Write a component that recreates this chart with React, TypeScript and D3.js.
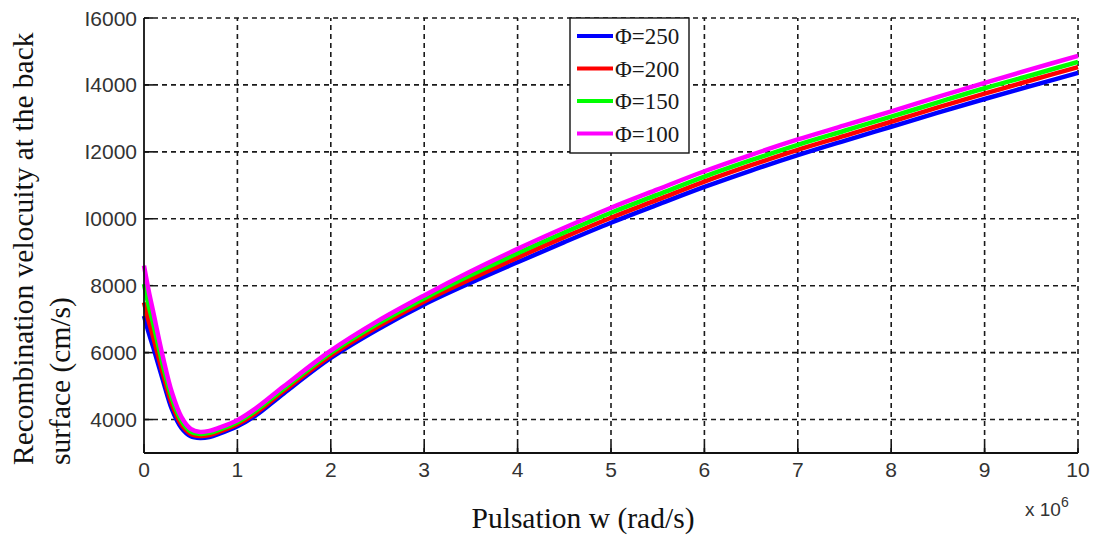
import React from "react";
import * as d3 from "d3";

const W = 1099;
const H = 536;

const xs = [0, 0.05, 0.1, 0.2, 0.3, 0.4, 0.5, 0.6, 0.7, 0.8, 1, 1.2, 1.5, 2, 2.5, 3, 3.5, 4, 4.5, 5, 5.5, 6, 6.5, 7, 7.5, 8, 8.5, 9, 9.5, 10];

const phi250 = [7100, 6600, 6150, 5200, 4300, 3750, 3500, 3450, 3480, 3570, 3800, 4130, 4790, 5840, 6690, 7440, 8090, 8700, 9300, 9880, 10420, 10950, 11440, 11900, 12330, 12750, 13170, 13580, 13970, 14360];
const phi200 = [7500, 6950, 6450, 5400, 4450, 3850, 3570, 3510, 3540, 3630, 3860, 4200, 4860, 5910, 6770, 7530, 8200, 8840, 9450, 10030, 10570, 11110, 11600, 12060, 12480, 12900, 13330, 13740, 14140, 14530];
const phi150 = [8050, 7400, 6850, 5650, 4620, 3960, 3640, 3570, 3600, 3690, 3920, 4270, 4930, 5990, 6860, 7620, 8320, 8970, 9590, 10180, 10720, 11260, 11750, 12210, 12630, 13050, 13480, 13900, 14290, 14690];
const phi100 = [8600, 7850, 7200, 5900, 4800, 4080, 3720, 3630, 3660, 3750, 3980, 4340, 5000, 6060, 6940, 7710, 8430, 9100, 9730, 10330, 10880, 11420, 11910, 12370, 12790, 13210, 13640, 14060, 14470, 14870];

const seriesNames = ["Φ=250", "Φ=200", "Φ=150", "Φ=100"];
const seriesColors = ["#0000ff", "#ff0000", "#00ff00", "#ff00ff"];
const seriesValues = [phi250, phi200, phi150, phi100];

const xTicks = [0, 1, 2, 3, 4, 5, 6, 7, 8, 9, 10];
const xTickLabels = ["0", "1", "2", "3", "4", "5", "6", "7", "8", "9", "10"];
const yTicks = [4000, 6000, 8000, 10000, 12000, 14000, 16000];
const yTickLabels = ["4000", "6000", "8000", "I0000", "I2000", "I4000", "I6000"];

const left = 144;
const right = 1078;
const top = 18;
const bottom = 453;

export default function App() {
  const x = d3.scaleLinear().domain([0, 10]).range([left, right]);
  const y = d3.scaleLinear().domain([3000, 16000]).range([bottom, top]);
  const line = d3
    .line<[number, number]>()
    .x((d) => x(d[0]))
    .y((d) => y(d[1]))
    .curve(d3.curveCatmullRom.alpha(0.5));

  const gridColor = "#1a1a1a";
  const tickFont = "'Liberation Sans', Arial, sans-serif";
  const serif = "'Liberation Serif', 'Times New Roman', serif";

  const legX = 570;
  const legY = 18;
  const legW = 119;
  const legH = 135;

  return (
    <svg
      width={W}
      height={H}
      style={{ position: "absolute", left: 0, top: 0, background: "#fff" }}
    >
      <rect x={0} y={0} width={W} height={H} fill="#fff" />
      {/* grid */}
      {xTicks.map((t) =>
        t === 0 ? null : (
          <line
            key={"gx" + t}
            x1={x(t)}
            x2={x(t)}
            y1={bottom}
            y2={top}
            stroke={gridColor}
            strokeWidth={1.6}
            strokeDasharray="5,4"
          />
        )
      )}
      {yTicks.map((t) => (
        <line
          key={"gy" + t}
          x1={left}
          x2={right}
          y1={y(t)}
          y2={y(t)}
          stroke={gridColor}
          strokeWidth={1.6}
          strokeDasharray="5,4"
        />
      ))}
      {/* inward ticks */}
      {xTicks.map((t) => (
        <line key={"tx" + t} x1={x(t)} x2={x(t)} y1={bottom} y2={bottom - 9} stroke="#111" strokeWidth={1.6} />
      ))}
      {yTicks.map((t) => (
        <line key={"ty" + t} x1={left} x2={left + 9} y1={y(t)} y2={y(t)} stroke="#111" strokeWidth={1.6} />
      ))}
      {/* curves */}
      {seriesValues.map((vals, i) => (
        <path
          key={"s" + i}
          d={line(xs.map((xv, j) => [xv, vals[j]]) as [number, number][]) || ""}
          fill="none"
          stroke={seriesColors[i]}
          strokeWidth={4.5}
          strokeLinejoin="round"
        />
      ))}
      {/* axes */}
      <line x1={left} x2={left} y1={top} y2={bottom} stroke="#111" strokeWidth={1.8} />
      <line x1={left} x2={right} y1={bottom} y2={bottom} stroke="#111" strokeWidth={1.8} />
      {/* tick labels */}
      {xTicks.map((t, i) => (
        <text
          key={"lx" + t}
          x={x(t)}
          y={477}
          textAnchor="middle"
          fontFamily={tickFont}
          fontSize={21}
          fill="#333"
        >
          {xTickLabels[i]}
        </text>
      ))}
      {yTicks.map((t, i) => (
        <text
          key={"ly" + t}
          x={137}
          y={y(t)}
          dy="0.36em"
          textAnchor="end"
          fontFamily={tickFont}
          fontSize={21}
          fill="#333"
        >
          {yTickLabels[i]}
        </text>
      ))}
      {/* exponent */}
      <text x={1025} y={516} fontFamily={tickFont} fontSize={19} fill="#333">
        x 10
        <tspan fontSize={14} dy={-9}>6</tspan>
      </text>
      {/* axis titles */}
      <text
        x={583}
        y={528}
        textAnchor="middle"
        fontFamily={serif}
        fontSize={29}
        fill="#111"
        textLength={223}
        lengthAdjust="spacingAndGlyphs"
      >
        Pulsation w (rad/s)
      </text>
      <g transform="translate(33,465) rotate(-90)">
        <text x={0} y={0} fontFamily={serif} fontSize={29.5} fill="#111">
          Recombination velocuity at the back
        </text>
        <text x={0} y={37} fontFamily={serif} fontSize={29.5} fill="#111">
          surface (cm/s)
        </text>
      </g>
      {/* legend */}
      <rect x={legX} y={legY} width={legW} height={legH} fill="#fff" stroke="#111" strokeWidth={1.4} />
      {seriesNames.map((name, i) => {
        const ly = 36 + i * 32.5;
        return (
          <g key={"leg" + i}>
            <line x1={577} x2={613} y1={ly} y2={ly} stroke={seriesColors[i]} strokeWidth={4} />
            <text x={615} y={ly} dy="0.35em" fontFamily={serif} fontSize={23} fill="#1a1a1a">
              {name}
            </text>
          </g>
        );
      })}
    </svg>
  );
}
